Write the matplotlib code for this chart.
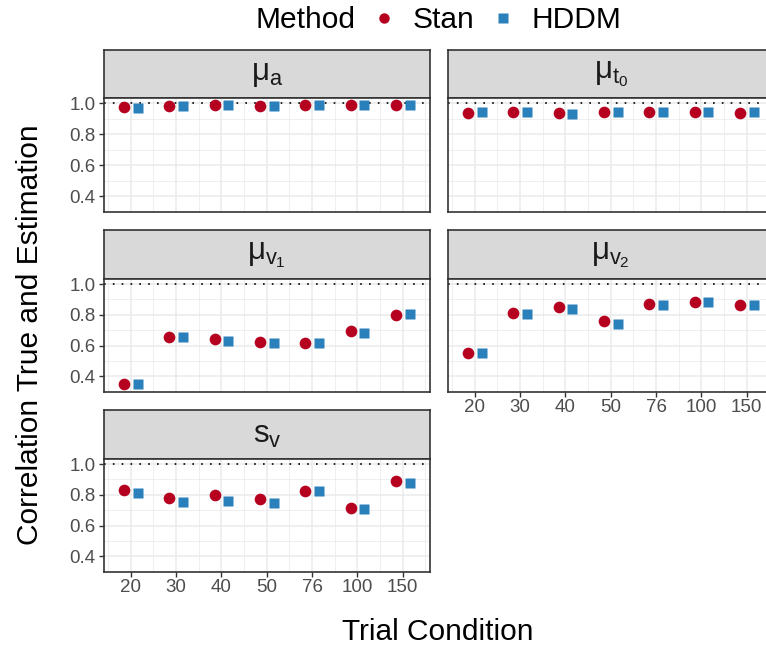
import matplotlib
matplotlib.use("Agg")
import numpy as np
from matplotlib import pyplot as plt
from matplotlib.lines import Line2D

plt.rcParams['font.family'] = ['Liberation Sans', 'DejaVu Sans']
plt.rcParams['mathtext.fontset'] = 'custom'
plt.rcParams['mathtext.rm'] = 'Liberation Sans'
plt.rcParams['mathtext.it'] = 'Liberation Sans'
plt.rcParams['mathtext.bf'] = 'Liberation Sans:bold'

# trial conditions on the x axis
trials = ["20", "30", "40", "50", "76", "100", "150"]

# correlation between true and estimated parameters
stan_mu_a = [0.974, 0.985, 0.989, 0.985, 0.989, 0.991, 0.991]
hddm_mu_a = [0.970, 0.984, 0.989, 0.981, 0.989, 0.991, 0.989]
stan_mu_t0 = [0.941, 0.945, 0.938, 0.945, 0.943, 0.943, 0.941]
hddm_mu_t0 = [0.943, 0.945, 0.932, 0.945, 0.945, 0.945, 0.945]
stan_mu_v1 = [0.348, 0.653, 0.644, 0.621, 0.617, 0.697, 0.802]
hddm_mu_v1 = [0.350, 0.653, 0.628, 0.615, 0.615, 0.685, 0.805]
stan_mu_v2 = [0.554, 0.815, 0.850, 0.758, 0.869, 0.886, 0.865]
hddm_mu_v2 = [0.552, 0.804, 0.840, 0.741, 0.867, 0.886, 0.861]
stan_s_v = [0.832, 0.781, 0.800, 0.773, 0.827, 0.712, 0.890]
hddm_s_v = [0.811, 0.754, 0.758, 0.748, 0.823, 0.710, 0.880]

panel_titles = [r"$\mu_a$", r"$\mu_{t_0}$", r"$\mu_{v_1}$", r"$\mu_{v_2}$", r"$s_v$"]
stan_vals = [stan_mu_a, stan_mu_t0, stan_mu_v1, stan_mu_v2, stan_s_v]
hddm_vals = [hddm_mu_a, hddm_mu_t0, hddm_mu_v1, hddm_mu_v2, hddm_s_v]

STAN_COL = "#B5001F"
HDDM_COL = "#2A80BA"
BORDER = "#333333"
GRID = "#EBEBEB"

W, H = 766, 652
fig = plt.figure(figsize=(W / 100, H / 100), dpi=100)


def add_px_axes(x0, y0, x1, y1):
    return fig.add_axes([x0 / W, 1 - y1 / H, (x1 - x0) / W, (y1 - y0) / H])


cols = [(103.5, 430.0), (447.5, 774.0)]
rows = [(50.0, 98.3, 211.7), (230.0, 279.0, 391.7), (410.0, 459.0, 571.7)]
xpos = np.arange(1, len(trials) + 1)
dodge = 0.15

for i, title in enumerate(panel_titles):
    r, c = divmod(i, 2)
    x0, x1 = cols[c]
    s0, p0, p1 = rows[r]

    strip = add_px_axes(x0, s0, x1, p0)
    strip.set_facecolor("#D9D9D9")
    strip.set_xticks([])
    strip.set_yticks([])
    for sp in strip.spines.values():
        sp.set_color(BORDER)
        sp.set_linewidth(1.2)
    strip.text(0.5, 0.5, title, ha="center", va="center", fontsize=22.5,
               color="#1A1A1A", transform=strip.transAxes)

    ax = add_px_axes(x0, p0, x1, p1)
    ax.set_xlim(0.4, 7.6)
    ax.set_ylim(0.322, 1.033)
    ax.set_xticks(xpos)
    ax.set_xticks(np.arange(0.5, 8.0, 1.0), minor=True)
    ax.set_yticks([0.4, 0.6, 0.8, 1.0])
    ax.set_yticks([0.3, 0.5, 0.7, 0.9], minor=True)
    ax.grid(True, which="major", color=GRID, lw=1.1, zorder=0)
    ax.grid(True, which="minor", color=GRID, lw=0.55, zorder=0)
    ax.set_axisbelow(True)
    for sp in ax.spines.values():
        sp.set_color(BORDER)
        sp.set_linewidth(1.2)
    ax.tick_params(which="minor", length=0)
    ax.tick_params(which="major", length=3.5, width=1.0, color=BORDER,
                   labelsize=13.5, labelcolor="#4D4D4D", pad=2)

    ax.axhline(1.0, color="black", ls=(0, (1, 4.3)), lw=1.2, zorder=2)
    ax.plot(xpos - dodge, stan_vals[i], "o", color=STAN_COL, ms=8.4,
            mec="none", zorder=3)
    ax.plot(xpos + dodge, hddm_vals[i], "s", color=HDDM_COL, ms=7.8,
            mec="none", zorder=3)

    if c == 0:
        ax.set_yticklabels(["0.4", "0.6", "0.8", "1.0"])
    else:
        ax.set_yticklabels([])
        ax.tick_params(axis="y", length=0)
    if i >= 3:
        ax.set_xticklabels(trials)
    else:
        ax.set_xticklabels([])
        ax.tick_params(axis="x", length=0)

fig.text(438 / W, 1 - 632 / H, "Trial Condition", ha="center", va="center",
         fontsize=21.5)
fig.text(30 / W, 1 - 335 / H, "Correlation True and Estimation", ha="center",
         va="center", rotation=90, fontsize=21.5)

# legend across the top
fig.text(255 / W, 1 - 20 / H, "Method", ha="left", va="center", fontsize=21.5)
handles = [
    Line2D([], [], ls="none", marker="o", color=STAN_COL, ms=7.5, mec="none"),
    Line2D([], [], ls="none", marker="s", color=HDDM_COL, ms=7, mec="none"),
]
fig.legend(handles, ["Stan", "HDDM"], ncol=2, frameon=False, fontsize=21.5,
           loc="center left", bbox_to_anchor=(369 / W, 1 - 20 / H),
           handletextpad=0.47, columnspacing=0.44, handlelength=1.0,
           borderpad=0, borderaxespad=0)

fig.savefig("out.png", dpi=100)
